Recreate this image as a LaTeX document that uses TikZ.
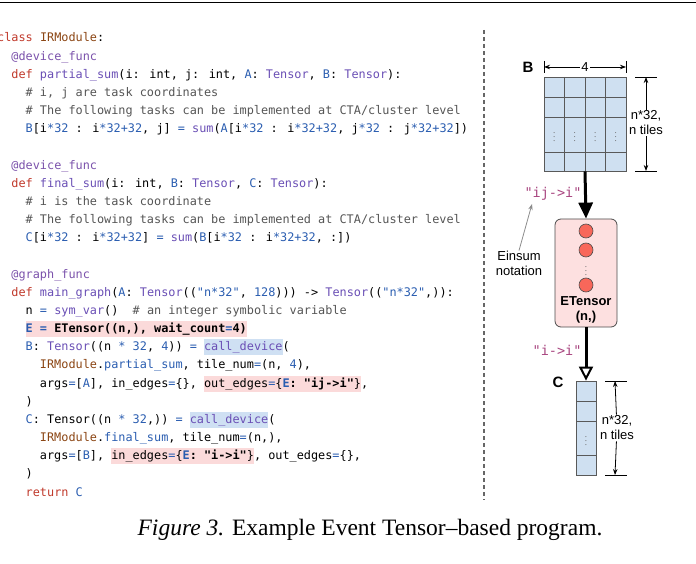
\documentclass[tikz,border=0pt]{standalone}
\usepackage{fontspec}
\usetikzlibrary{arrows.meta}
\setmainfont{Liberation Serif}
\setsansfont{Liberation Sans}
\newfontfamily\codefont{DejaVu Sans Mono}
\definecolor{ckw}{HTML}{C0392B}
\definecolor{ccl}{HTML}{8B4513}
\definecolor{cdc}{HTML}{7B52AB}
\definecolor{cfn}{HTML}{6A4FB5}
\definecolor{cvb}{HTML}{2A5DB0}
\definecolor{ccm}{HTML}{555555}
\definecolor{hlred}{HTML}{FBDADA}
\definecolor{hlblue}{HTML}{CFE0F3}
\definecolor{cell}{HTML}{CFE0F1}
\definecolor{epink}{HTML}{FDE0E0}
\definecolor{edot}{HTML}{F8675A}
\definecolor{ein}{HTML}{A8457F}
\newcommand\kw[1]{\textcolor{ckw}{#1}}
\newcommand\cl[1]{\textcolor{ccl}{#1}}
\newcommand\dc[1]{\textcolor{cdc}{#1}}
\newcommand\fn[1]{\textcolor{cfn}{#1}}
\newcommand\vb[1]{\textcolor{cvb}{#1}}
\newcommand\cm[1]{\textcolor{ccm}{#1}}
\newcommand\hlr[1]{{\setlength\fboxsep{0pt}\colorbox{hlred}{\rule[-4.5pt]{0pt}{16pt}#1}}}
\newcommand\hlb[1]{{\setlength\fboxsep{0pt}\colorbox{hlblue}{\rule[-4.5pt]{0pt}{16pt}#1}}}
\begin{document}
\begin{tikzpicture}[x=1pt,y=-1pt,
  code/.style={anchor=base west,inner sep=0pt,font=\codefont\fontsize{11.85}{14}\selectfont},
  lbl/.style={font=\sffamily\fontsize{13}{15}\selectfont,align=center,inner sep=0pt},
  ein/.style={font=\codefont\fontsize{13.5}{15}\selectfont,text=ein,inner sep=0pt},
  grid/.style={draw=black!65,line width=0.8pt},
  big/.style={line width=3pt,-{Triangle[width=14pt,length=16pt]}},
  dim/.style={line width=0.8pt,{Stealth[length=6pt]}-{Stealth[length=6pt]}}]
\useasboundingbox (0,0) rectangle (696,564);
\draw[line width=0.8pt] (0,2) -- (696,2);
% code lines
\def\cw{7.13}
\def\ly#1{42+(#1-1)*18.16}
\node[code] (l1) at (-3,{\ly{1}}) {\kw{class} \cl{IRModule}:};
\node[code] (l2) at ({-3+2*\cw},{\ly{2}}) {\dc{@device\_func}};
\node[code] (l3) at ({-3+2*\cw},{\ly{3}}) {\kw{def} \fn{partial\_sum}(i: int, j: int, \vb{A}: \fn{Tensor}, \vb{B}: \fn{Tensor}):};
\node[code] (l4) at ({-3+4*\cw},{\ly{4}}) {\cm{\# i, j are task coordinates}};
\node[code] (l5) at ({-3+4*\cw},{\ly{5}}) {\cm{\# The following tasks can be implemented at CTA/cluster level}};
\node[code] (l6) at ({-3+4*\cw},{\ly{6}}) {\vb{B}[i\vb{*32} : i\vb{*32+32}, j] \vb{=} \fn{sum}(\vb{A}[i\vb{*32} : i\vb{*32+32}, j\vb{*32} : j\vb{*32+32}])};
\node[code] (l8) at ({-3+2*\cw},{\ly{8}}) {\dc{@device\_func}};
\node[code] (l9) at ({-3+2*\cw},{\ly{9}}) {\kw{def} \fn{final\_sum}(i: int, \vb{B}: \fn{Tensor}, \vb{C}: \fn{Tensor}):};
\node[code] (l10) at ({-3+4*\cw},{\ly{10}}) {\cm{\# i is the task coordinate}};
\node[code] (l11) at ({-3+4*\cw},{\ly{11}}) {\cm{\# The following tasks can be implemented at CTA/cluster level}};
\node[code] (l12) at ({-3+4*\cw},{\ly{12}}) {\vb{C}[i\vb{*32} : i\vb{*32+32}] \vb{=} \fn{sum}(\vb{B}[i\vb{*32} : i\vb{*32+32}, :])};
\node[code] (l14) at ({-3+2*\cw},{\ly{14}}) {\dc{@graph\_func}};
\node[code] (l15) at ({-3+2*\cw},{\ly{15}}) {\kw{def} \fn{main\_graph}(\vb{A}: \fn{Tensor}((\vb{"n*32"}, \vb{128}))) -> \fn{Tensor}((\vb{"n*32"},)):};
\node[code] (l16) at ({-3+4*\cw},{\ly{16}}) {n \vb{=} \fn{sym\_var}()\ \ \cm{\# an integer symbolic variable}};
\node[code] (l17) at ({-3+4*\cw},{\ly{17}}) {\hlr{\bfseries\vb{E} \vb{=} ETensor((n,), wait\_count\vb{=}4)}};
\node[code] (l18) at ({-3+4*\cw},{\ly{18}}) {\vb{B}: \fn{Tensor}((n \vb{*} \vb{32}, \vb{4})) \vb{=} \hlb{\fn{call\_device}}(};
\node[code] (l19) at ({-3+6*\cw},{\ly{19}}) {\cl{IRModule}.\vb{partial\_sum}, tile\_num\vb{=}(n, \vb{4}),};
\node[code] (l20) at ({-3+6*\cw},{\ly{20}}) {args\vb{=}[\vb{A}], in\_edges\vb{=}\{\}, \hlr{out\_edges\vb{=}\{\textbf{\vb{E}: "ij->i"}\}},};
\node[code] (l21) at ({-3+4*\cw},{\ly{21}}) {)};
\node[code] (l22) at ({-3+4*\cw},{\ly{22}}) {\vb{C}: Tensor((n \vb{*} \vb{32},)) \vb{=} \hlb{\fn{call\_device}}(};
\node[code] (l23) at ({-3+6*\cw},{\ly{23}}) {\cl{IRModule}.\vb{final\_sum}, tile\_num\vb{=}(n,),};
\node[code] (l24) at ({-3+6*\cw},{\ly{24}}) {args\vb{=}[\vb{B}], \hlr{in\_edges\vb{=}\{\textbf{\vb{E}: "i->i"}\}}, out\_edges\vb{=}\{\},};
\node[code] (l25) at ({-3+4*\cw},{\ly{25}}) {)};
\node[code] (l26) at ({-3+4*\cw},{\ly{26}}) {\kw{return} \vb{C}};
% separator
\draw[black!60,line width=1.2pt,dash pattern=on 4pt off 3pt] (484,30) -- (484,500);
% B grid
\fill[cell] (544,77) rectangle (626,171);
\foreach \x in {564.5,585,605.5} \draw[grid] (\x,77) -- (\x,171);
\foreach \y in {97,117,152} \draw[grid] (544,\y) -- (626,\y);
\node[draw=black!65,line width=0.8pt,minimum width=82pt,minimum height=94pt,inner sep=0pt] (B) at (585,124) {};
\foreach \x in {554.25,574.75,595.25,615.75} \node[font=\fontsize{9}{9}\selectfont,text=black!60,inner sep=0pt] at (\x,134.5) {$\vdots$};
\node[font=\sffamily\bfseries\fontsize{15}{15}\selectfont] (Bl) at (528,67) {B};
\draw[line width=0.8pt] (544,61) -- (544,73) (626,61) -- (626,73);
\node[lbl,fill=white,inner sep=1pt] (four) at (585,67) {4};
\draw[line width=0.8pt,-{Stealth[length=6pt]}] (four) -- (544,67);
\draw[line width=0.8pt,-{Stealth[length=6pt]}] (four) -- (626,67);
\draw[line width=0.8pt] (635,77) -- (657,77) (635,171) -- (657,171);
\node[lbl,fill=white,inner sep=1pt] (bdim) at (646,123) {n*32,\\n tiles};
\draw[line width=0.8pt,-{Stealth[length=6pt]}] (bdim) -- (646,77);
\draw[line width=0.8pt,-{Stealth[length=6pt]}] (bdim) -- (646,171);
% ETensor
\node[draw=black!70,line width=0.8pt,fill=epink,rounded corners=6pt,minimum width=62pt,minimum height=108pt,inner sep=0pt] (E) at (586,273) {};
\foreach \y/\n in {231/d1,250/d2,285/d3} \node[circle,draw=black!70,line width=0.6pt,fill=edot,minimum size=14pt,inner sep=0pt] (\n) at (586,\y) {};
\node[font=\fontsize{9}{9}\selectfont,text=black!60,inner sep=0pt] at (586,268) {$\vdots$};
\node[font=\sffamily\bfseries\fontsize{13}{15}\selectfont,align=center] (Et) at (586,309.5) {ETensor\\(n,)};
\draw[big] (B.south) -- (E.north);
\node[ein] (e1) at (553,194) {"ij->i"};
\node[lbl] (eins) at (519,263) {Einsum\\notation};
\coordinate (etip) at (532,204);
\draw[black!45,line width=0.8pt,-{Stealth[length=6pt]}] (eins.north) -- (etip);
% C
\fill[cell] (576,381) rectangle (596,475);
\foreach \y in {401,421,455} \draw[grid] (576,\y) -- (596,\y);
\node[draw=black!65,line width=0.8pt,minimum width=20pt,minimum height=94pt,inner sep=0pt] (C) at (586,428) {};
\node[font=\fontsize{9}{9}\selectfont,text=black!60,inner sep=0pt] at (586,438) {$\vdots$};
\node[font=\sffamily\bfseries\fontsize{15}{15}\selectfont] (Cl) at (558,382) {C};
\draw[line width=3pt,-{Triangle[open,width=14pt,length=14pt,line width=2pt]}] (E.south) -- (C.north);
\node[ein] (e2) at (557,350) {"i->i"};
\draw[line width=0.8pt] (605,381) -- (627,381) (605,475) -- (627,475);
\node[lbl,fill=white,inner sep=1pt] (cdim) at (617,428) {n*32,\\n tiles};
\draw[line width=0.8pt,-{Stealth[length=6pt]}] (cdim) -- (615,381);
\draw[line width=0.8pt,-{Stealth[length=6pt]}] (cdim) -- (615,475);
% caption
\node[font=\fontsize{23.5}{28}\selectfont] (cap) at (370,530) {\textit{Figure 3.} Example Event Tensor–based program.};
\end{tikzpicture}
\end{document}
